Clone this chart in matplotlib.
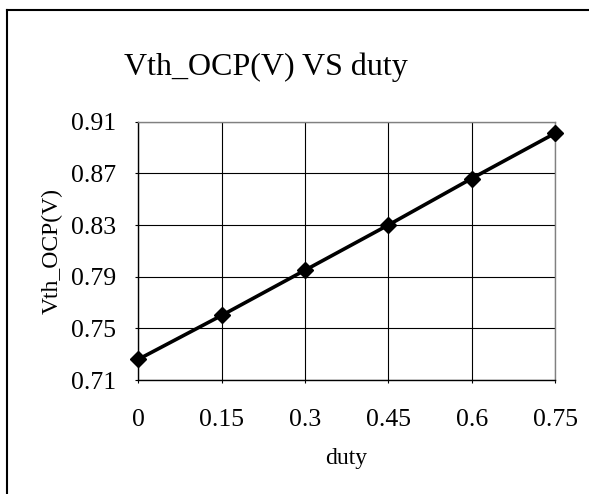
import matplotlib
matplotlib.use("Agg")
import matplotlib.pyplot as plt
from matplotlib.lines import Line2D

categories = ["0", "0.15", "0.3", "0.45", "0.6", "0.75"]
vth = [0.726, 0.760, 0.795, 0.830, 0.866, 0.901]
yticks = [0.71, 0.75, 0.79, 0.83, 0.87, 0.91]

plt.rcParams['font.family'] = ['Liberation Serif', 'DejaVu Serif']

fig = plt.figure(figsize=(5.89, 4.94), dpi=100)
ax = fig.add_axes([138.3/589, 1-380/494, (555-138.3)/589, (380-121.7)/494])

x = list(range(len(categories)))
ax.plot(x, vth, color='black', lw=2.6, marker='D', ms=8.5, mfc='black', mec='black', zorder=3, clip_on=False)

ax.set_xlim(0, len(categories)-1)
ax.set_ylim(0.71, 0.91)
ax.set_xticks(x)
ax.set_xticklabels(categories)
ax.set_yticks(yticks)
ax.set_yticklabels([f"{v:.2f}" for v in yticks])
ax.grid(True, color='black', lw=0.8)
ax.set_axisbelow(True)
for s in ['top', 'right']:
    ax.spines[s].set_color('#808080')
    ax.spines[s].set_linewidth(1)
for s in ['left', 'bottom']:
    ax.spines[s].set_color('black')
    ax.spines[s].set_linewidth(1)
ax.tick_params(axis='both', length=2, width=0.8, labelsize=18.5)
ax.tick_params(axis='x', pad=19)
ax.tick_params(axis='y', pad=14)

ax.set_xlabel("duty", fontsize=17, labelpad=12)
ax.set_ylabel("Vth_OCP(V)", fontsize=17, labelpad=6)

fig.text(266/589, 1-67/494, "Vth_OCP(V) VS duty", fontsize=23, ha='center', va='center')

# figure border (top and left visible)
fig.add_artist(Line2D([6.5/589, 6.5/589], [0, 1-10.5/494], transform=fig.transFigure, color='black', lw=1.5))
fig.add_artist(Line2D([6.5/589, 1], [1-10.5/494, 1-10.5/494], transform=fig.transFigure, color='black', lw=1.5))

fig.savefig("out.png", dpi=100)
